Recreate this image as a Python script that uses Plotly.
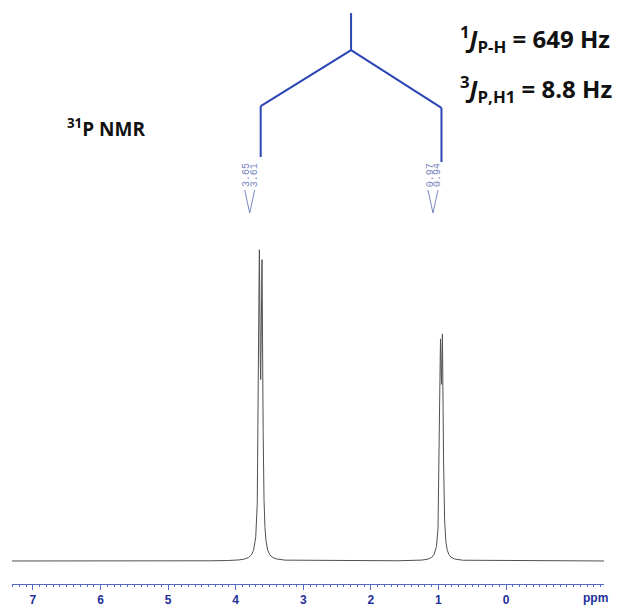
import numpy as np
import plotly.graph_objects as go

# 31P peak list: positions (ppm), labels and line intensities (tallest line ~ 1)
peak_ppm = [3.65, 3.61, 0.97, 0.94]
peak_labels = ["3.65", "3.61", "0.97", "0.94"]
peak_intensity = [0.905, 0.869, 0.600, 0.620]
half_width_ppm = 0.014  # Lorentzian half-width at half-height

# the two doublets (indices into the peak list)
doublets = [(0, 1), (2, 3)]

# coupling constants shown next to the splitting tree
coupling_texts = [
    "<b><sup>1</sup><i>J</i><sub>P-H</sub> = 649 Hz</b>",
    "<b><sup>3</sup><i>J</i><sub>P,H1</sub> = 8.8 Hz</b>",
]
nucleus_text = "<b><sup>31</sup>P NMR</b>"

# chemical-shift axis
ppm_ticks = [7, 6, 5, 4, 3, 2, 1, 0]
ppm_tick_text = [str(t) for t in ppm_ticks]
ppm_range = [7.31, -1.45]

# ---------------------------------------------------------------- spectrum
x = np.arange(ppm_range[1], ppm_range[0], 0.0005)
y = np.zeros_like(x)
for p, a in zip(peak_ppm, peak_intensity):
    y += a / (1.0 + ((x - p) / half_width_ppm) ** 2)

AXIS_BLUE = "#5568c8"
LABEL_BLUE = "#23309a"
TREE_BLUE = "#2a45b5"
PEAK_LABEL = "#7b87c2"

fig = go.Figure()
fig.add_trace(go.Scatter(x=x, y=y, mode="lines",
                         line=dict(color="#505050", width=1),
                         hoverinfo="skip", showlegend=False))

# ---------------------------------------------------------------- splitting tree
centers = [np.mean([peak_ppm[i] for i in d]) for d in doublets]
root = float(np.mean(centers))
tree_top, tree_fork = 1.762, 1.643
branch_end = [1.463, 1.457]
stem_end = [1.299, 1.283]
tree_line = dict(color=TREE_BLUE, width=2)
fig.add_shape(type="line", x0=root, x1=root, y0=tree_top, y1=tree_fork,
              xref="x", yref="y", line=tree_line)
for c, be, se in zip(centers, branch_end, stem_end):
    fig.add_shape(type="line", x0=root, x1=c, y0=tree_fork, y1=be,
                  xref="x", yref="y", line=tree_line)
    fig.add_shape(type="line", x0=c, x1=c, y0=be, y1=se,
                  xref="x", yref="y", line=tree_line)

# ---------------------------------------------------------------- peak labels
label_shift = [-13.3, -8.0, -10.4, -5.5]
for p, lab, dx in zip(peak_ppm, peak_labels, label_shift):
    fig.add_annotation(x=p, y=1.241, xref="x", yref="y", text=lab,
                       textangle=-90, showarrow=False, xshift=dx,
                       font=dict(family="Liberation Mono", size=10,
                                 color=PEAK_LABEL))

# bracket joining each pair of labels
ppm_per_px = (ppm_range[0] - ppm_range[1]) / 592.0
bracket_px = [(-16, -11, -6), (-13.5, -8.5, -3.5)]
for c, (l, m, r) in zip(centers, bracket_px):
    fig.add_trace(go.Scatter(
        x=[c - l * ppm_per_px, c - m * ppm_per_px, c - r * ppm_per_px],
        y=[1.193, 1.119, 1.193], mode="lines",
        line=dict(color=PEAK_LABEL, width=1),
        hoverinfo="skip", showlegend=False))

# ---------------------------------------------------------------- text
fig.add_annotation(x=0.7534, y=0.934, xref="paper", yref="paper",
                   xanchor="left", yanchor="middle", showarrow=False,
                   text=coupling_texts[0],
                   font=dict(family="Open Sans", size=24, color="#111111"))
fig.add_annotation(x=0.7534, y=0.847, xref="paper", yref="paper",
                   xanchor="left", yanchor="middle", showarrow=False,
                   text=coupling_texts[1],
                   font=dict(family="Open Sans", size=24, color="#111111"))
fig.add_annotation(x=0.0895, y=0.781, xref="paper", yref="paper",
                   xanchor="left", yanchor="middle", showarrow=False,
                   text=nucleus_text,
                   font=dict(family="Open Sans", size=19, color="#111111"))
fig.add_annotation(x=-1.32, y=0, xref="x", yref="paper", yshift=-14,
                   yanchor="middle", showarrow=False, text="ppm",
                   font=dict(family="Liberation Sans", size=12,
                             color=LABEL_BLUE, weight="bold"))

fig.update_layout(
    width=628, height=606,
    margin=dict(l=12, r=24, t=0, b=22),
    paper_bgcolor="white", plot_bgcolor="white",
    showlegend=False,
    xaxis=dict(range=ppm_range, showline=True, linecolor=AXIS_BLUE,
               linewidth=1, ticks="outside", ticklen=5, tickwidth=1,
               tickcolor=AXIS_BLUE, tickvals=ppm_ticks,
               ticktext=ppm_tick_text, showgrid=False, zeroline=False,
               tickfont=dict(family="Liberation Sans", size=12,
                             color=LABEL_BLUE, weight="bold"),
               minor=dict(dtick=0.1, tick0=0, ticks="outside", ticklen=2,
                          tickwidth=1, tickcolor=AXIS_BLUE, showgrid=False)),
    yaxis=dict(range=[-0.074, 1.804], visible=False, showgrid=False,
               zeroline=False),
)

fig.write_html("out.html")
